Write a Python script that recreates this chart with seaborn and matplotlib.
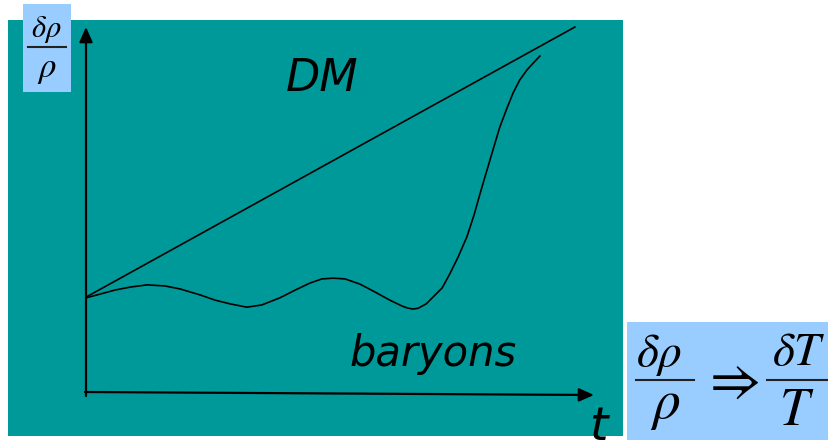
import matplotlib
matplotlib.use("Agg")
import matplotlib.pyplot as plt
import seaborn as sns
import pandas as pd
from matplotlib.patches import Rectangle

# ---- data (time in arbitrary units 0..10, density contrast 0..10) ----
dm_t = [0.0, 9.51]
dm_y = [2.55, 9.81]

baryon_t = [0.0, 0.27, 0.56, 0.86, 1.19, 1.54, 1.83, 2.22, 2.51, 2.80, 3.13,
            3.42, 3.77, 4.07, 4.36, 4.59, 4.81, 5.04, 5.33, 5.62, 5.91, 6.15,
            6.25, 6.36, 6.46, 6.62, 6.75, 6.93, 7.08, 7.24, 7.41, 7.55, 7.67,
            7.86, 8.05, 8.19, 8.31, 8.44, 8.58, 8.72, 8.83]
baryon_y = [2.53, 2.63, 2.74, 2.82, 2.88, 2.85, 2.77, 2.61, 2.47, 2.37, 2.28,
            2.34, 2.53, 2.74, 2.93, 3.04, 3.06, 3.04, 2.90, 2.69, 2.47, 2.31,
            2.26, 2.23, 2.25, 2.37, 2.55, 2.80, 3.18, 3.63, 4.17, 4.76, 5.35,
            6.24, 7.12, 7.63, 8.04, 8.39, 8.66, 8.87, 9.03]

label_dm = "DM"
label_baryons = "baryons"
label_t = "t"

TEAL = "#009999"
LIGHT_BLUE = "#99CCFF"

plt.rcParams["mathtext.fontset"] = "stix"

W, H = 829, 440
fig = plt.figure(figsize=(W / 100, H / 100), dpi=100)
fig.patch.set_facecolor("white")

# background axes in pixel coordinates
bg = fig.add_axes([0, 0, 1, 1])
bg.set_xlim(0, W)
bg.set_ylim(H, 0)
bg.axis("off")

bg.add_patch(Rectangle((8, 20), 615, 416, facecolor=TEAL, edgecolor="none", zorder=0))
bg.add_patch(Rectangle((23, 4), 48, 88, facecolor=LIGHT_BLUE, edgecolor="none", zorder=1))
bg.add_patch(Rectangle((627, 322), 202, 118, facecolor=LIGHT_BLUE, edgecolor="none", zorder=1))

# axes arrows
arrow_style = "-|>,head_length=0.45,head_width=0.2"
bg.annotate("", xy=(86, 27), xytext=(86, 396),
            arrowprops=dict(arrowstyle=arrow_style, color="black", lw=1.6,
                            mutation_scale=20, shrinkA=0, shrinkB=0), zorder=3)
bg.annotate("", xy=(594, 395), xytext=(85, 392),
            arrowprops=dict(arrowstyle=arrow_style, color="black", lw=1.6,
                            mutation_scale=20, shrinkA=0, shrinkB=0), zorder=3)

# labels
bg.text(322, 91, label_dm, fontsize=32, style="italic", family="DejaVu Sans",
        ha="center", va="baseline", color="black", zorder=4)
bg.text(433, 366, label_baryons, fontsize=30, style="italic", family="DejaVu Sans",
        ha="center", va="baseline", color="black", zorder=4)
bg.text(599, 440, label_t, fontsize=34, style="italic", family="DejaVu Sans",
        ha="center", va="baseline", color="black", zorder=4, clip_on=False)

# left fraction  d rho / rho
bg.text(46, 37, r"$\delta\rho$", fontsize=22, ha="center", va="baseline", zorder=4)
bg.plot([28, 66], [47, 47], color="#222222", lw=1.5, zorder=4)
bg.text(47, 77, r"$\rho$", fontsize=25, ha="center", va="baseline", zorder=4)

# right formula
bg.text(659, 366, r"$\delta\rho$", fontsize=34, ha="center", va="baseline", zorder=4)
bg.plot([636, 694], [380, 380], color="#222222", lw=1.5, zorder=4)
bg.text(665, 418, r"$\rho$", fontsize=40, ha="center", va="baseline", zorder=4)
bg.text(730, 382, r"$\Rightarrow$", fontsize=40, ha="center", va="center", zorder=4)
bg.text(799, 365, r"$\delta T$", fontsize=34, ha="center", va="baseline", zorder=4)
bg.plot([767, 829], [380, 380], color="#222222", lw=1.5, zorder=4)
bg.text(797, 425, r"$T$", fontsize=38, ha="center", va="baseline", zorder=4)

# data axes
ax = fig.add_axes([86 / W, (H - 392) / H, 514 / W, 372 / H])
ax.patch.set_alpha(0)

df_dm = pd.DataFrame({"t": dm_t, "y": dm_y})
df_b = pd.DataFrame({"t": baryon_t, "y": baryon_y})
sns.lineplot(data=df_dm, x="t", y="y", ax=ax, color="black", lw=1.2)
sns.lineplot(data=df_b, x="t", y="y", ax=ax, color="black", lw=1.2)
ax.set_xlim(0, 10)
ax.set_ylim(0, 10)
ax.axis("off")

fig.savefig("out.png", dpi=100)
